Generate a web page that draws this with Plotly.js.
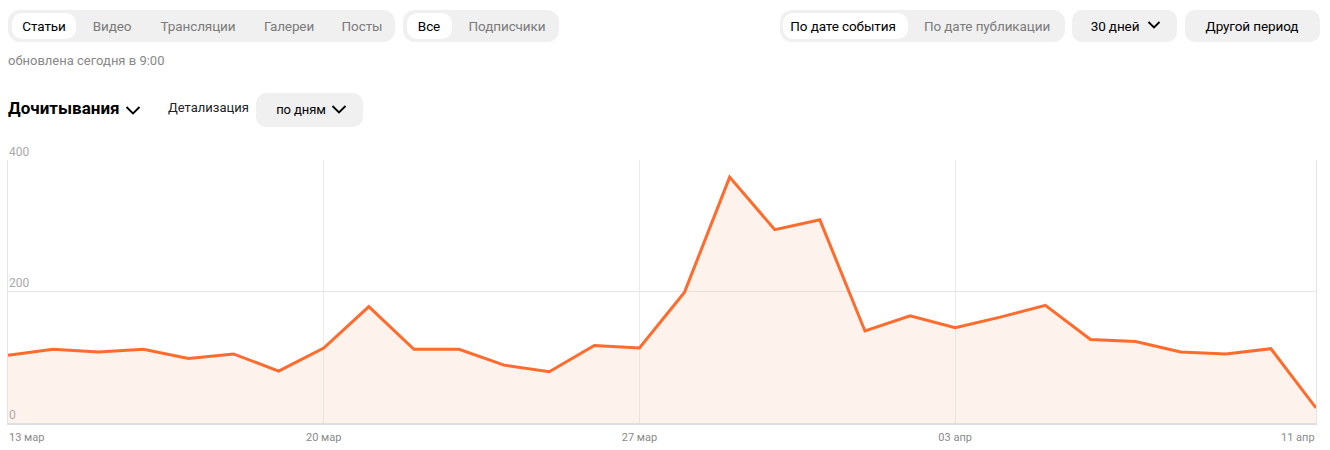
<!DOCTYPE html>
<html>
<head>
<meta charset="utf-8">
<script src="https://cdn.plot.ly/plotly-3.0.1.min.js"></script>
<style>
  html, body { margin:0; padding:0; background:#fff; width:1330px; height:450px; overflow:hidden; font-family: Roboto, "Noto Sans", Arial, sans-serif; }
  #chart { position:absolute; left:0; top:0; width:1330px; height:450px; }
  .ui { position:absolute; z-index:5; }
  .group { background:#f0f0f0; border-radius:12px; height:32px; }
  .pill { position:absolute; top:3px; height:26px; border-radius:10px; background:#fff; }
  .t { position:absolute; font-size:13.5px; line-height:32px; white-space:nowrap; color:#7b7b7b; transform:translateX(-50%); letter-spacing:-0.1px; }
  .t.on { color:#000; }
  .btn { background:#f0f0f0; border-radius:10px; height:32px; }
  svg.chev { position:absolute; }
</style>
</head>
<body>
<div id="chart"></div>

<!-- tabs group 1 -->
<div class="ui group" style="left:8px;top:10px;width:387px;"></div>
<div class="ui pill" style="left:12px;top:13px;width:64px;"></div>
<div class="ui t on" style="left:44px;top:10px;">Статьи</div>
<div class="ui t" style="left:112px;top:10px;">Видео</div>
<div class="ui t" style="left:198px;top:10px;">Трансляции</div>
<div class="ui t" style="left:289px;top:10px;">Галереи</div>
<div class="ui t" style="left:362px;top:10px;">Посты</div>

<!-- tabs group 2 -->
<div class="ui group" style="left:403px;top:10px;width:156px;"></div>
<div class="ui pill" style="left:407px;top:13px;width:45px;"></div>
<div class="ui t on" style="left:429px;top:10px;">Все</div>
<div class="ui t" style="left:507px;top:10px;">Подписчики</div>

<!-- right group -->
<div class="ui group" style="left:780px;top:10px;width:285px;"></div>
<div class="ui pill" style="left:783px;top:13px;width:125px;"></div>
<div class="ui t on" style="left:843px;top:10px;">По дате события</div>
<div class="ui t" style="left:987px;top:10px;">По дате публикации</div>

<div class="ui btn" style="left:1072px;top:10px;width:105px;"></div>
<div class="ui t on" style="left:1115px;top:10px;">30 дней</div>
<svg class="ui chev" style="left:1147px;top:20px;" width="14" height="10" viewBox="0 0 14 10"><polyline points="1.5,2 7,7.5 12.5,2" fill="none" stroke="#000" stroke-width="1.8"/></svg>

<div class="ui btn" style="left:1185px;top:10px;width:135px;"></div>
<div class="ui t on" style="left:1252px;top:10px;">Другой период</div>

<div class="ui" style="left:8px;top:53px;font-size:13px;color:#888;white-space:nowrap;">обновлена сегодня в 9:00</div>

<div class="ui" style="left:8px;top:98px;font-size:17px;font-weight:700;color:#000;white-space:nowrap;">Дочитывания</div>
<svg class="ui chev" style="left:125px;top:105px;" width="16" height="11" viewBox="0 0 16 11"><polyline points="1.5,2 8,8.5 14.5,2" fill="none" stroke="#000" stroke-width="1.8"/></svg>
<div class="ui" style="left:168px;top:100px;font-size:13px;color:#222;white-space:nowrap;">Детализация</div>
<div class="ui btn" style="left:256px;top:93px;width:107px;height:34px;"></div>
<div class="ui t on" style="left:301px;top:94px;font-size:13px;">по дням</div>
<svg class="ui chev" style="left:331px;top:104px;" width="16" height="11" viewBox="0 0 16 11"><polyline points="1.5,2 8,8.5 14.5,2" fill="none" stroke="#000" stroke-width="1.8"/></svg>

<script>
const dates = ['2023-03-13','2023-03-14','2023-03-15','2023-03-16','2023-03-17','2023-03-18','2023-03-19',
  '2023-03-20','2023-03-21','2023-03-22','2023-03-23','2023-03-24','2023-03-25','2023-03-26',
  '2023-03-27','2023-03-28','2023-03-29','2023-03-30','2023-03-31','2023-04-01','2023-04-02',
  '2023-04-03','2023-04-04','2023-04-05','2023-04-06','2023-04-07','2023-04-08','2023-04-09',
  '2023-04-10','2023-04-11'];
const reads = [103,112,108,112,98,105,79,114,177,112,112,88,78,118,114,199,374,294,309,140,163,145,161,179,127,124,108,105,113,23];
const gridDates = ['2023-03-20','2023-03-27','2023-04-03'];
const gridLabels = ['20 мар','27 мар','03 апр'];
const edgeDates = ['2023-03-13','2023-04-11'];
const edgeLabels = ['13 мар','11 апр'];
const yTicks = [0,200,400];

const trace = {
  x: dates, y: reads, type:'scatter', mode:'lines',
  line:{color:'#ff6b2c', width:3},
  fill:'tozeroy', fillcolor:'rgba(250,190,160,0.2)',
  hoverinfo:'skip'
};

const layout = {
  width:1330, height:450,
  margin:{l:8, r:14, t:160, b:27, pad:0},
  paper_bgcolor:'rgba(0,0,0,0)', plot_bgcolor:'#fff',
  showlegend:false,
  font:{family:'Roboto, "Noto Sans", sans-serif', size:11, color:'#999'},
  xaxis:{
    type:'date', range:[edgeDates[0], edgeDates[1]],
    tickvals:gridDates, ticktext:gridLabels,
    showgrid:true, gridcolor:'#ebebeb', gridwidth:1,
    zeroline:false, showline:true, linecolor:'#dcdfe5', linewidth:2,
    ticks:'', ticklabelstandoff:3,
    tickfont:{size:11, color:'#8a8a8a'}, fixedrange:true
  },
  yaxis:{
    range:[0,400], tickvals:yTicks, ticktext:yTicks.map(String),
    showgrid:true, gridcolor:'#e6e6e6', gridwidth:1,
    zeroline:false, showline:true, mirror:true, linecolor:'#e3e3e3', linewidth:1,
    ticks:'', ticklabelposition:'inside top', ticklabeloverflow:'allow',
    tickfont:{size:12, color:'#aaa'}, fixedrange:true
  },
  annotations:[
    {x:edgeDates[0], y:0, xref:'x', yref:'paper', text:edgeLabels[0], showarrow:false,
     xanchor:'left', yanchor:'top', yshift:-6, xshift:-1, font:{size:11, color:'#8a8a8a'}},
    {x:edgeDates[1], y:0, xref:'x', yref:'paper', text:edgeLabels[1], showarrow:false,
     xanchor:'right', yanchor:'top', yshift:-6, xshift:1, font:{size:11, color:'#8a8a8a'}}
  ]
};

Plotly.newPlot('chart', [trace], layout, {displayModeBar:false, staticPlot:true});
</script>
</body>
</html>
